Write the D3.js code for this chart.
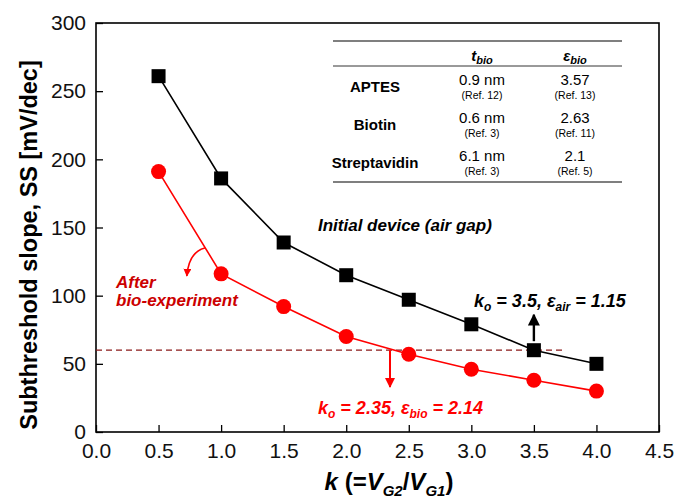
<!DOCTYPE html>
<html>
<head>
<meta charset="utf-8">
<script src="https://cdn.jsdelivr.net/npm/d3@7"></script>
<style>
  body { margin: 0; background: #fff; }
  text { font-family: "Liberation Sans", Arial, sans-serif; }
</style>
</head>
<body>
<div id="chart"></div>
<script>
// Data
var kValues = [0.5, 1.0, 1.5, 2.0, 2.5, 3.0, 3.5, 4.0];
var ssInitial = [261, 186, 139, 115, 97, 79, 60, 50];
var ssAfter = [191, 116, 92, 70, 57, 46, 38, 30];
var xTicks = [0, 0.5, 1, 1.5, 2, 2.5, 3, 3.5, 4, 4.5];
var yTicks = [0, 50, 100, 150, 200, 250, 300];
var refLevel = 60;
var tableRows = [
    { name: "APTES", t: "0.9 nm", tRef: "(Ref. 12)", e: "3.57", eRef: "(Ref. 13)" },
    { name: "Biotin", t: "0.6 nm", tRef: "(Ref. 3)", e: "2.63", eRef: "(Ref. 11)" },
    { name: "Streptavidin", t: "6.1 nm", tRef: "(Ref. 3)", e: "2.1", eRef: "(Ref. 5)" }
];

var width = 679, height = 500;
var margin = { left: 96, right: 20, top: 23, bottom: 68 };
var red = "#ff0000", darkRed = "#cc0000";

var svg = d3.select("#chart").append("svg")
    .attr("width", width)
    .attr("height", height);

var x = d3.scaleLinear().domain([0, 4.5]).range([margin.left, width - margin.right]);
var y = d3.scaleLinear().domain([0, 300]).range([height - margin.bottom, margin.top]);

svg.append("defs").selectAll("marker")
    .data([["arrBlack", "#000"], ["arrRed", red]])
    .enter().append("marker")
    .attr("id", function(d) { return d[0]; })
    .attr("viewBox", "0 0 10 10")
    .attr("refX", 9).attr("refY", 5)
    .attr("markerWidth", 5).attr("markerHeight", 5)
    .attr("markerUnits", "strokeWidth")
    .attr("orient", "auto")
    .append("path")
    .attr("d", "M0,0 L10,5 L0,10 z")
    .attr("fill", function(d) { return d[1]; });

// Axes (ticks inward, minor ticks in between)
var xMinor = d3.range(0, 4.51, 0.25);
var yMinor = d3.range(0, 301, 25);

var xAxis = svg.append("g").attr("transform", "translate(0," + y(0) + ")");
xAxis.call(d3.axisBottom(x).tickValues(xMinor).tickSize(-4).tickFormat(""));
xAxis.call(d3.axisBottom(x).tickValues(xTicks).tickSize(-7).tickPadding(11).tickFormat(d3.format(".1f")));
var yAxis = svg.append("g").attr("transform", "translate(" + x(0) + ",0)");
yAxis.call(d3.axisLeft(y).tickValues(yMinor).tickSize(-4).tickFormat(""));
yAxis.call(d3.axisLeft(y).tickValues(yTicks).tickSize(-7).tickPadding(10));
svg.selectAll(".tick text").style("font-size", "21px").attr("fill", "#111");
svg.selectAll(".domain").remove();
svg.selectAll(".tick line").attr("stroke-width", 1.3);

svg.append("rect")
    .attr("x", x(0)).attr("y", y(300))
    .attr("width", x(4.5) - x(0)).attr("height", y(0) - y(300))
    .attr("fill", "none").attr("stroke", "#000").attr("stroke-width", 1.6);

// Axis titles
svg.append("text")
    .attr("transform", "translate(37,245) rotate(-90)")
    .attr("text-anchor", "middle")
    .style("font-size", "23.5px").style("font-weight", "bold")
    .text("Subthreshold slope, SS [mV/dec]");

var xt = svg.append("text")
    .attr("x", 389).attr("y", 490)
    .attr("text-anchor", "middle")
    .style("font-size", "24px").style("font-weight", "bold");
xt.append("tspan").style("font-style", "italic").text("k");
xt.append("tspan").text(" (=");
xt.append("tspan").style("font-style", "italic").text("V");
xt.append("tspan").style("font-style", "italic").style("font-size", "15px").attr("dy", 6).text("G2");
xt.append("tspan").attr("dy", -6).text("/");
xt.append("tspan").style("font-style", "italic").text("V");
xt.append("tspan").style("font-style", "italic").style("font-size", "15px").attr("dy", 6).text("G1");
xt.append("tspan").attr("dy", -6).text(")");

// Reference line at 60 mV/dec
svg.append("line")
    .attr("x1", x(0)).attr("x2", x(3.75))
    .attr("y1", y(refLevel)).attr("y2", y(refLevel))
    .attr("stroke", "#8b1a1a").attr("stroke-width", 1.3)
    .attr("stroke-dasharray", "6,4");

// Series
var line = d3.line()
    .x(function(d) { return x(d[0]); })
    .y(function(d) { return y(d[1]); });

var initPts = d3.zip(kValues, ssInitial);
var afterPts = d3.zip(kValues, ssAfter);

svg.append("path").datum(initPts).attr("d", line)
    .attr("fill", "none").attr("stroke", "#000").attr("stroke-width", 1.6);
svg.append("path").datum(afterPts).attr("d", line)
    .attr("fill", "none").attr("stroke", red).attr("stroke-width", 1.6);

svg.selectAll(".sq").data(initPts).enter().append("rect")
    .attr("class", "sq")
    .attr("x", function(d) { return x(d[0]) - 7; })
    .attr("y", function(d) { return y(d[1]) - 7; })
    .attr("width", 14).attr("height", 14)
    .attr("fill", "#000");

svg.selectAll(".dot").data(afterPts).enter().append("circle")
    .attr("class", "dot")
    .attr("cx", function(d) { return x(d[0]); })
    .attr("cy", function(d) { return y(d[1]); })
    .attr("r", 7.5)
    .attr("fill", red);

// Arrows
svg.append("line")
    .attr("x1", x(3.5)).attr("x2", x(3.5))
    .attr("y1", y(refLevel) - 9).attr("y2", y(86))
    .attr("stroke", "#000").attr("stroke-width", 2.4)
    .attr("marker-end", "url(#arrBlack)");
svg.append("line")
    .attr("x1", x(2.35)).attr("x2", x(2.35))
    .attr("y1", y(refLevel)).attr("y2", y(33))
    .attr("stroke", red).attr("stroke-width", 2)
    .attr("marker-end", "url(#arrRed)");

var c0 = [x(0.87), y(135)];
svg.append("path")
    .attr("d", "M" + c0[0] + "," + c0[1] + " Q" + (c0[0] - 16) + "," + (c0[1] + 4) + " " + (c0[0] - 18) + "," + (c0[1] + 28))
    .attr("fill", "none").attr("stroke", red).attr("stroke-width", 1.6)
    .attr("marker-end", "url(#arrRed)");

// Annotations
function boldItalic(xp, yp, color, anchor) {
    return svg.append("text")
        .attr("x", xp).attr("y", yp)
        .attr("text-anchor", anchor || "start")
        .attr("fill", color)
        .style("font-size", "17px").style("font-weight", "bold").style("font-style", "italic");
}

boldItalic(318, 231, "#000").text("Initial device (air gap)");
boldItalic(116, 288, darkRed).text("After");
boldItalic(116, 306, darkRed).text("bio-experiment");

var a1 = boldItalic(474, 307, "#000").style("font-size", "18px");
a1.append("tspan").text("k");
a1.append("tspan").attr("dy", 4).style("font-size", "12px").text("o");
a1.append("tspan").attr("dy", -4).text(" = 3.5, ε");
a1.append("tspan").attr("dy", 4).style("font-size", "12px").text("air");
a1.append("tspan").attr("dy", -4).text(" = 1.15");

var a2 = boldItalic(318, 414, red).style("font-size", "18px");
a2.append("tspan").text("k");
a2.append("tspan").attr("dy", 4).style("font-size", "12px").text("o");
a2.append("tspan").attr("dy", -4).text(" = 2.35, ε");
a2.append("tspan").attr("dy", 4).style("font-size", "12px").text("bio");
a2.append("tspan").attr("dy", -4).text(" = 2.14");

// Inset table
var tbl = svg.append("g");
var tblX0 = 333, tblX1 = 622;
var colX = [375, 482, 575];
[41, 66, 182].forEach(function(yy, i) {
    tbl.append("line")
        .attr("x1", tblX0).attr("x2", tblX1)
        .attr("y1", yy).attr("y2", yy)
        .attr("stroke", "#000").attr("stroke-width", i === 1 ? 0.8 : 1.2);
});

var h1 = tbl.append("text").attr("x", colX[1]).attr("y", 61).attr("text-anchor", "middle")
    .style("font-size", "15px").style("font-weight", "bold").style("font-style", "italic");
h1.append("tspan").text("t");
h1.append("tspan").attr("dy", 3).style("font-size", "11px").text("bio");
var h2 = tbl.append("text").attr("x", colX[2]).attr("y", 61).attr("text-anchor", "middle")
    .style("font-size", "15px").style("font-weight", "bold").style("font-style", "italic");
h2.append("tspan").text("ε");
h2.append("tspan").attr("dy", 3).style("font-size", "11px").text("bio");

tableRows.forEach(function(r, i) {
    var yy = 85 + i * 38;
    tbl.append("text").attr("x", colX[0]).attr("y", yy + 7).attr("text-anchor", "middle")
        .style("font-size", "15px").style("font-weight", "bold").text(r.name);
    tbl.append("text").attr("x", colX[1]).attr("y", yy).attr("text-anchor", "middle")
        .style("font-size", "15px").text(r.t);
    tbl.append("text").attr("x", colX[1]).attr("y", yy + 14).attr("text-anchor", "middle")
        .style("font-size", "10.5px").text(r.tRef);
    tbl.append("text").attr("x", colX[2]).attr("y", yy).attr("text-anchor", "middle")
        .style("font-size", "15px").text(r.e);
    tbl.append("text").attr("x", colX[2]).attr("y", yy + 14).attr("text-anchor", "middle")
        .style("font-size", "10.5px").text(r.eRef);
});
</script>
</body>
</html>
